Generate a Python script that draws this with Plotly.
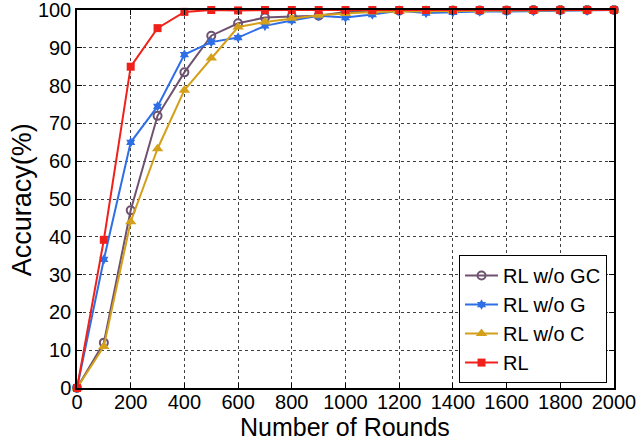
import plotly.graph_objects as go

rounds = [0, 100, 200, 300, 400, 500, 600, 700, 800, 900, 1000, 1100, 1200, 1300, 1400, 1500, 1600, 1700, 1800, 1900, 2000]
rl_wo_gc = [0, 12, 47, 72, 83.5, 93.2, 96.5, 98, 98.3, 98.5, 99.5, 99.7, 99.8, 99.8, 99.9, 99.9, 99.9, 100, 100, 100, 100]
rl_wo_g = [0, 34, 65, 74.5, 88.2, 91.5, 92.7, 95.8, 97.2, 98.5, 98, 98.8, 99.8, 99.2, 99.4, 99.6, 99.6, 99.7, 99.7, 99.8, 100]
rl_wo_c = [0, 11, 44, 63.3, 78.8, 87.3, 95.5, 96.8, 97.8, 98.6, 99.1, 99.5, 99.6, 99.7, 99.8, 99.8, 99.9, 99.9, 100, 100, 100]
rl = [0, 39.2, 85, 95.2, 99.5, 100, 99.9, 100, 100, 100, 100, 100, 100, 100, 100, 100, 100, 100, 100, 100, 100]

series = [
    ("RL w/o GC", rl_wo_gc, "#6e5270", "circle-open", 8),
    ("RL w/o G", rl_wo_g, "#2f6fe6", "hexagram", 8),
    ("RL w/o C", rl_wo_c, "#d4a01a", "triangle-up", 10),
    ("RL", rl, "#f0201a", "square", 8),
]

fig = go.Figure()
for name, ys, color, sym, sz in series:
    fig.add_trace(go.Scatter(
        x=rounds, y=ys, name=name, mode="lines+markers",
        line=dict(color=color, width=2),
        marker=dict(symbol=sym, size=sz, color=color,
                    line=dict(color=color, width=2 if sym == "circle-open" else 0)),
        cliponaxis=False,
    ))

axis_common = dict(
    showline=True, linecolor="black", linewidth=1.5, mirror="ticks",
    ticks="inside", ticklen=5, tickcolor="black",
    showgrid=True, gridcolor="rgba(0,0,0,0.75)", griddash="dot", gridwidth=1,
    zeroline=False, ticklabeloverflow="allow",
    tickfont=dict(family="Liberation Sans, Arial, sans-serif", size=20, color="black"),
)

fig.update_layout(
    width=641, height=446,
    margin=dict(l=77, r=27, t=10, b=58, autoexpand=False),
    paper_bgcolor="white", plot_bgcolor="white",
    font=dict(family="Liberation Sans, Arial, sans-serif", color="black"),
    xaxis=dict(range=[0, 2000], dtick=200, automargin=False, ticklabelstandoff=-5,
               **axis_common),
    yaxis=dict(range=[0, 100], dtick=10, automargin=False, **axis_common),
    legend=dict(x=0.987, y=0.013, xanchor="right", yanchor="bottom",
                bgcolor="white", bordercolor="black", borderwidth=1,
                font=dict(size=20, color="black"), tracegroupgap=0,
                itemwidth=33, entrywidth=185),
    showlegend=True,
    annotations=[
        dict(text="Number of Rounds", xref="paper", yref="paper", x=0.499, y=-0.104,
             xanchor="center", yanchor="middle", showarrow=False, font=dict(size=25)),
        dict(text="Accuracy(%)", xref="paper", yref="paper", x=-0.102, y=0.497,
             xanchor="center", yanchor="middle", showarrow=False, textangle=-90,
             font=dict(size=27)),
    ],
)

fig.write_html("out.html")
